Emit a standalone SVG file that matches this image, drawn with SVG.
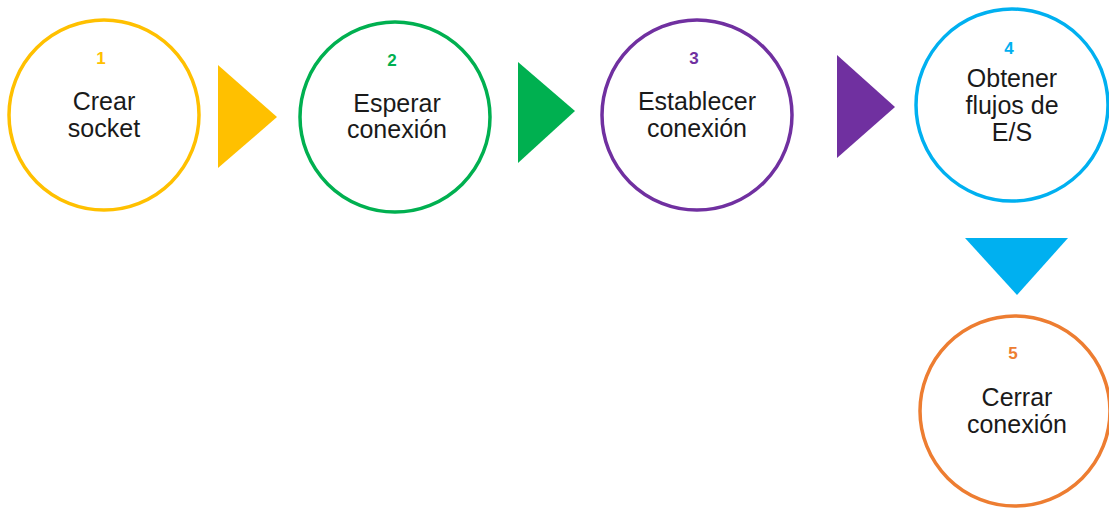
<svg xmlns="http://www.w3.org/2000/svg" width="1109" height="508" viewBox="0 0 1109 508">
<style>
.c{fill:#fff;stroke-width:3.5}
.n{font-family:"Liberation Sans",Arial,sans-serif;font-weight:bold;font-size:17px;text-anchor:middle}
.t{font-family:"Liberation Sans",Arial,sans-serif;font-size:25px;fill:#1a1a1a;text-anchor:middle}
</style>
<rect width="1109" height="508" fill="#fff"/>
<g id="connectors">
<polygon points="218,65 277,117 218,168" fill="#FFC000"/>
<polygon points="518,62 575,111 518,163" fill="#00B050"/>
<polygon points="837,55 895,107 837,158" fill="#7030A0"/>
<polygon points="965,238 1068,238 1017,295" fill="#00B0F0"/>
</g>
<g id="node1">
<circle class="c" cx="104" cy="115" r="95" stroke="#FFC000"/>
<text class="n" x="101" y="64" fill="#FFC000">1</text>
<text class="t" x="104" y="110">Crear</text>
<text class="t" x="104" y="137">socket</text>
</g>
<g id="node2">
<circle class="c" cx="395" cy="117" r="95" stroke="#00B050"/>
<text class="n" x="392" y="66" fill="#00B050">2</text>
<text class="t" x="397" y="112">Esperar</text>
<text class="t" x="397" y="138">conexión</text>
</g>
<g id="node3">
<circle class="c" cx="697" cy="115" r="95" stroke="#7030A0"/>
<text class="n" x="694" y="64" fill="#7030A0">3</text>
<text class="t" x="697" y="110">Establecer</text>
<text class="t" x="697" y="137">conexión</text>
</g>
<g id="node4">
<circle class="c" cx="1012" cy="105" r="96" stroke="#00B0F0"/>
<text class="n" x="1009" y="54" fill="#00B0F0">4</text>
<text class="t" x="1012" y="87">Obtener</text>
<text class="t" x="1012" y="114">flujos de</text>
<text class="t" x="1012" y="141">E/S</text>
</g>
<g id="node5">
<circle class="c" cx="1015" cy="411" r="95" stroke="#ED7D31"/>
<text class="n" x="1013" y="359" fill="#ED7D31">5</text>
<text class="t" x="1017" y="406">Cerrar</text>
<text class="t" x="1017" y="433">conexión</text>
</g>
</svg>
